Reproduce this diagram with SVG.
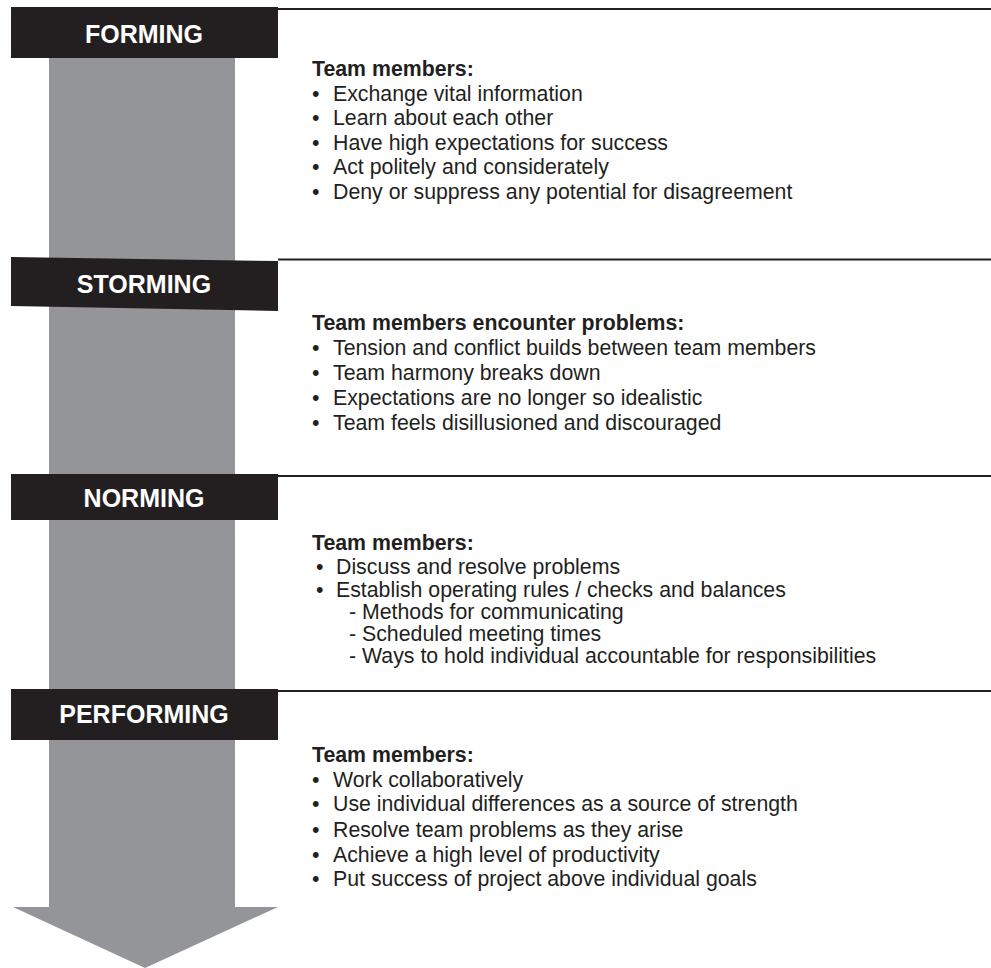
<svg xmlns="http://www.w3.org/2000/svg" width="991" height="968" viewBox="0 0 991 968">
  <style>
    .band { fill: #231f20; }
    .rule { stroke: #231f20; stroke-width: 2; fill: none; }
    .stage { font-family: "Liberation Sans", Arial, sans-serif; font-weight: bold; font-size: 25px; fill: #ffffff; text-anchor: middle; }
    .body { font-family: "Liberation Sans", Arial, sans-serif; font-size: 21.3px; fill: #231f20; }
    .lead { font-weight: bold; }
  </style>
  <rect width="991" height="968" fill="#ffffff"/>

  <!-- progression arrow -->
  <g id="arrow">
    <polygon points="49,50 235,50 235,907 278,907 145,968 13,907 49,907" fill="#939598"/>
  </g>

  <!-- section divider rules -->
  <g id="connectors">
    <line class="rule" x1="278" y1="9" x2="991" y2="9"/>
    <line class="rule" x1="278" y1="259.5" x2="991" y2="259.5"/>
    <line class="rule" x1="278" y1="476" x2="991" y2="476"/>
    <line class="rule" x1="278" y1="691" x2="991" y2="691"/>
  </g>

  <g id="forming">
    <rect class="band" x="11" y="7" width="267" height="51"/>
    <text class="stage" x="144" y="43">FORMING</text>
    <text class="body lead" x="312" y="76">Team members:</text>
    <text class="body" x="312" y="101">•</text><text class="body" x="333" y="101">Exchange vital information</text>
    <text class="body" x="312" y="125">•</text><text class="body" x="333" y="125">Learn about each other</text>
    <text class="body" x="312" y="150">•</text><text class="body" x="333" y="150">Have high expectations for success</text>
    <text class="body" x="312" y="174">•</text><text class="body" x="333" y="174">Act politely and considerately</text>
    <text class="body" x="312" y="199">•</text><text class="body" x="333" y="199">Deny or suppress any potential for disagreement</text>
  </g>

  <g id="storming">
    <polygon class="band" points="11,257 278,261 278,311 11,306"/>
    <text class="stage" x="144" y="293">STORMING</text>
    <text class="body lead" x="312" y="330">Team members encounter problems:</text>
    <text class="body" x="312" y="355">•</text><text class="body" x="333" y="355">Tension and conflict builds between team members</text>
    <text class="body" x="312" y="380">•</text><text class="body" x="333" y="380">Team harmony breaks down</text>
    <text class="body" x="312" y="405">•</text><text class="body" x="333" y="405">Expectations are no longer so idealistic</text>
    <text class="body" x="312" y="430">•</text><text class="body" x="333" y="430">Team feels disillusioned and discouraged</text>
  </g>

  <g id="norming">
    <rect class="band" x="11" y="474" width="267" height="46"/>
    <text class="stage" x="144" y="507">NORMING</text>
    <text class="body lead" x="312" y="550">Team members:</text>
    <text class="body" x="316" y="574">•</text><text class="body" x="336" y="574">Discuss and resolve problems</text>
    <text class="body" x="316" y="597">•</text><text class="body" x="336" y="597">Establish operating rules / checks and balances</text>
    <text class="body" x="349" y="619">- Methods for communicating</text>
    <text class="body" x="349" y="641">- Scheduled meeting times</text>
    <text class="body" x="349" y="663">- Ways to hold individual accountable for responsibilities</text>
  </g>

  <g id="performing">
    <rect class="band" x="11" y="689" width="267" height="51"/>
    <text class="stage" x="144" y="723">PERFORMING</text>
    <text class="body lead" x="312" y="762">Team members:</text>
    <text class="body" x="312" y="787">•</text><text class="body" x="333" y="787">Work collaboratively</text>
    <text class="body" x="312" y="811">•</text><text class="body" x="333" y="811">Use individual differences as a source of strength</text>
    <text class="body" x="312" y="837">•</text><text class="body" x="333" y="837">Resolve team problems as they arise</text>
    <text class="body" x="312" y="862">•</text><text class="body" x="333" y="862">Achieve a high level of productivity</text>
    <text class="body" x="312" y="886">•</text><text class="body" x="333" y="886">Put success of project above individual goals</text>
  </g>
</svg>
